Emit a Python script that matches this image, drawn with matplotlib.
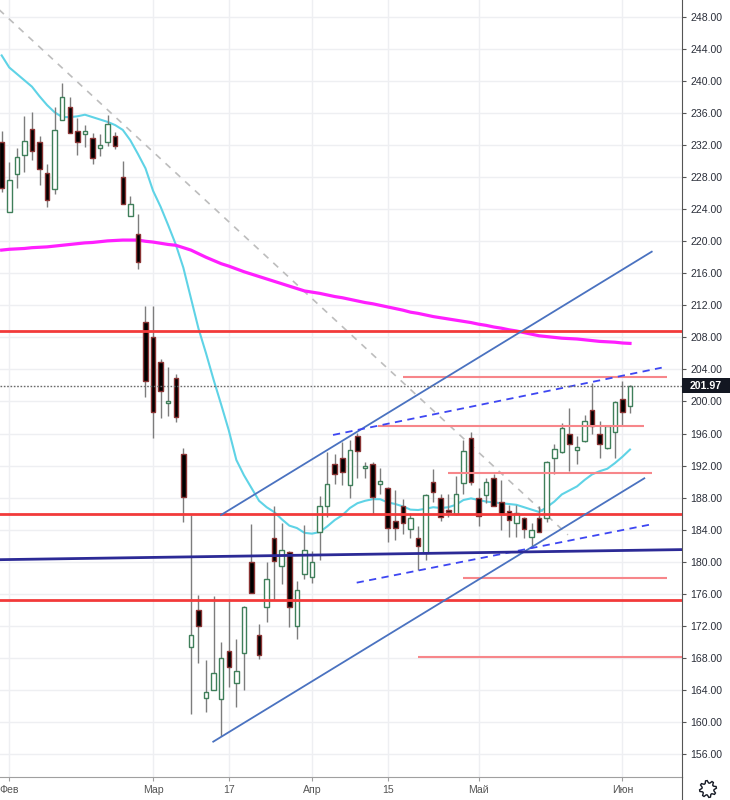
import matplotlib
matplotlib.use('Agg')
import matplotlib.pyplot as plt
import matplotlib.transforms as mtransforms
from matplotlib.patches import Rectangle, Polygon, Circle
import numpy as np

plt.rcParams['font.family'] = ['Liberation Sans', 'DejaVu Sans']

# ---------------- data ----------------
opens = [232.4, 223.7, 228.4, 230.8, 234.0, 232.4, 228.5, 226.5, 235.2, 236.8,
         233.8, 233.4, 232.9, 231.7, 232.4, 233.1, 228.0, 223.2, 220.9, 209.9,
         208.0, 204.9, 199.8, 202.9, 193.4, 169.4, 174.0, 163.0, 164.0, 162.9,
         168.9, 164.8, 168.6, 179.9, 170.9, 174.3, 182.9, 179.5, 181.2, 172.0,
         178.5, 178.1, 183.7, 186.9, 192.2, 192.9, 189.6, 195.7, 191.7, 192.2,
         189.7, 189.2, 185.1, 187.0, 184.1, 183.0, 181.1, 190.0, 188.0, 186.5,
         186.0, 189.8, 195.4, 188.0, 188.3, 190.5, 187.5, 186.3, 184.8, 185.5,
         183.1, 185.5, 185.5, 192.9, 193.7, 196.0, 193.9, 195.1, 198.9, 196.0,
         194.2, 196.2, 200.3, 199.4]
highs = [233.8, 229.9, 231.7, 235.6, 236.1, 233.1, 229.7, 236.8, 239.7, 238.0,
         235.4, 234.5, 233.5, 233.4, 235.8, 233.7, 230.0, 225.6, 223.4, 211.9,
         211.9, 205.3, 204.3, 203.4, 194.2, 185.8, 175.8, 167.7, 175.7, 170.0,
         175.4, 170.4, 174.5, 184.7, 172.2, 179.9, 187.0, 184.8, 181.3, 177.6,
         184.6, 181.3, 188.2, 193.7, 193.5, 194.9, 195.2, 196.1, 192.5, 192.5,
         191.7, 189.3, 189.0, 187.8, 186.1, 184.5, 188.4, 191.6, 188.4, 188.4,
         190.7, 195.2, 196.2, 189.2, 190.4, 190.9, 190.2, 187.1, 187.1, 185.6,
         184.8, 186.9, 192.6, 194.7, 197.3, 199.2, 195.7, 198.3, 202.3, 197.6,
         197.0, 200.0, 202.5, 202.1]
lows = [226.2, 223.6, 226.6, 228.7, 230.2, 227.0, 224.3, 225.9, 235.2, 233.5,
        230.8, 231.8, 229.7, 230.6, 231.9, 231.5, 224.6, 223.2, 216.6, 200.6,
        195.4, 197.9, 198.2, 197.4, 185.0, 161.0, 167.3, 161.2, 164.0, 158.2,
        164.4, 161.9, 164.0, 176.1, 167.9, 172.5, 175.2, 177.2, 171.9, 170.4,
        177.9, 177.4, 180.2, 185.6, 189.7, 189.6, 188.0, 190.5, 190.4, 186.0,
        188.4, 182.5, 182.7, 183.5, 183.0, 179.0, 180.2, 187.5, 185.1, 185.6,
        185.8, 188.4, 189.6, 184.4, 187.3, 186.9, 184.0, 183.1, 183.1, 183.0,
        181.7, 183.7, 185.0, 190.9, 193.6, 191.3, 192.2, 195.0, 196.0, 193.0,
        194.1, 193.0, 197.1, 198.6]
closes = [226.6, 227.6, 230.5, 232.5, 231.3, 229.0, 225.1, 233.9, 238.0, 233.5,
          232.4, 233.8, 230.4, 231.9, 234.6, 231.9, 224.7, 224.7, 217.4, 202.6,
          198.7, 201.3, 199.95, 198.0, 188.1, 170.9, 172.0, 163.7, 166.1, 168.0,
          166.9, 166.4, 174.4, 176.1, 168.3, 177.9, 180.1, 181.4, 174.4, 176.5,
          181.4, 180.0, 187.0, 189.7, 190.9, 191.2, 194.0, 193.8, 191.9, 188.1,
          190.1, 184.2, 184.2, 184.8, 185.5, 181.9, 188.3, 188.7, 185.6, 186.2,
          188.4, 193.8, 190.0, 185.7, 189.9, 187.0, 186.0, 185.2, 186.1, 184.1,
          183.9, 183.7, 192.4, 194.1, 196.7, 194.7, 194.3, 197.6, 196.9, 194.7,
          196.9, 199.9, 198.7, 201.97]

ma_fast = [243.2, 241.7, 240.9, 240.1, 239.3, 238.1, 237.0, 236.1, 235.5, 235.5,
           235.6, 235.8, 235.5, 235.2, 234.9, 234.5, 233.9, 232.6, 230.9, 229.1,
           226.3, 224.3, 222.0, 219.6, 216.7, 212.9, 209.1, 206.0, 202.7, 199.6,
           196.4, 192.7, 190.8, 189.2, 187.6, 186.8, 186.2, 185.3, 184.5, 184.2,
           183.6, 183.5, 183.7, 184.4, 185.2, 185.8, 186.7, 187.3, 187.6, 187.8,
           187.8, 187.4, 187.2, 186.9, 186.5, 186.45, 186.6, 186.8, 186.7, 186.8,
           187.1, 187.7, 187.9, 187.7, 187.5, 187.4, 187.3, 187.2, 187.1, 186.8,
           186.5, 186.2, 186.8, 187.5, 188.4, 188.9, 189.4, 190.2, 190.9, 191.3,
           191.6, 192.3, 193.1, 194.0]
ma_slow = [218.9, 219.0, 219.05, 219.1, 219.2, 219.25, 219.3, 219.4, 219.5, 219.6,
           219.7, 219.8, 219.85, 219.95, 220.05, 220.1, 220.15, 220.15, 220.15, 220.0,
           219.9, 219.75, 219.6, 219.5, 219.2, 218.9, 218.45, 218.0, 217.6, 217.2,
           216.9, 216.55, 216.2, 215.9, 215.6, 215.3, 215.0, 214.7, 214.4, 214.1,
           213.8, 213.65, 213.5, 213.3, 213.1, 212.95, 212.75, 212.55, 212.35, 212.2,
           212.0, 211.8, 211.6, 211.4, 211.15, 211.0, 210.8, 210.6, 210.45, 210.3,
           210.15, 210.0, 209.85, 209.65, 209.5, 209.3, 209.15, 208.95, 208.8, 208.6,
           208.4, 208.2, 208.1, 208.0, 207.9, 207.85, 207.8, 207.7, 207.6, 207.5,
           207.45, 207.4, 207.3, 207.25]

tick_idx = [1, 20, 30, 41, 51, 63, 82]
tick_labels = ['Фев', 'Мар', '17', 'Апр', '15', 'Май', 'Июн']
price_ticks = list(range(156, 249, 4))

# support / resistance levels
major_levels = [208.8, 185.92, 175.18]
minor_levels = [203.1, 197.0, 191.07, 177.92, 168.06]
minor_start = [53.0, 49.7, 58.96, 60.98, 55.0]
minor_end = [87.85, 84.9, 85.87, 87.85, 95.0]
# trend lines: (x0, p0, x1, p1)
gray_trend = [-1.7, 250.1, 74.8, 183.35]
channel_up = [28.97, 185.83, 85.87, 218.70]
channel_lo = [27.95, 157.53, 84.89, 190.41]
dash_up = [43.77, 195.82, 87.19, 204.22]
dash_lo = [46.9, 177.38, 85.87, 184.67]
navy_line = [-1.0, 180.24, 95.0, 181.58]

# ---------------- figure ----------------
W, H = 730, 800
fig = plt.figure(figsize=(W / 100, H / 100), dpi=100)
ax = fig.add_axes([0, 23 / H, 682 / W, 777 / H])
ax.set_xlim(-0.22, 89.87)
ax.set_ylim(153.12, 250.12)

grid_c = '#eeeff2'
for p in price_ticks:
    ax.axhline(p, color=grid_c, lw=1, zorder=0)
for t in tick_idx:
    ax.axvline(t, color=grid_c, lw=1, zorder=0)

# major horizontal levels
for lv in major_levels:
    ax.axhline(lv, color='#f23a3a', lw=2, zorder=4)
for lv, s, e in zip(minor_levels, minor_start, minor_end):
    ax.plot([s, e], [lv, lv], color='#f7868a', lw=1.5, zorder=4, solid_capstyle='butt')

# moving averages
x = np.arange(len(closes))
ax.plot(x, ma_fast, color='#5fd3e6', lw=1.5, zorder=2.5)
ax.plot(x, ma_slow, color='#ff1fff', lw=2.3, zorder=2.5)

# trend lines
ax.plot(gray_trend[0::2], gray_trend[1::2], color='#bdbdbd', lw=1.2,
        ls=(0, (4, 4)), zorder=2)
for ln in (channel_up, channel_lo):
    ax.plot(ln[0::2], ln[1::2], color='#4a72c0', lw=1.3, zorder=4)
for ln in (dash_up, dash_lo):
    ax.plot(ln[0::2], ln[1::2], color='#3d46f2', lw=1.3, ls=(0, (4, 3)), zorder=4)
ax.plot(navy_line[0::2], navy_line[1::2], color='#2c2a96', lw=2, zorder=4)

# candles
o = np.array(opens); c = np.array(closes); hi = np.array(highs); lo = np.array(lows)
up = c >= o
ax.vlines(x, lo, hi, color='#7d7d7d', lw=1, zorder=3)
bottom = np.minimum(o, c)
height = np.maximum(np.abs(c - o), 0.3)
ax.bar(x[up], height[up], bottom=bottom[up], width=0.6, color='#ffffff',
       edgecolor='#3f7f5a', linewidth=1, zorder=3.2)
ax.bar(x[~up], height[~up], bottom=bottom[~up], width=0.6, color='#000000',
       edgecolor='#8a3434', linewidth=1, zorder=3.2)

# last price dotted line
last = closes[-1]
ax.axhline(last, color='#6a6a6a', lw=1, ls=(0, (1.2, 1.2)), zorder=5)

# axes styling
for s in ['top', 'left']:
    ax.spines[s].set_visible(False)
ax.spines['right'].set_color('#555555')
ax.spines['bottom'].set_color('#a0a0a0')
ax.yaxis.tick_right()
ax.set_yticks(price_ticks)
ax.set_yticklabels([f'{p:.2f}' for p in price_ticks])
ax.tick_params(axis='y', length=3, width=0.8, color='#555555', pad=3,
               labelsize=7.6, labelcolor='#2a2e39')
ax.set_xticks(tick_idx)
ax.set_xticklabels(tick_labels)
ax.tick_params(axis='x', length=3, width=0.8, color='#a0a0a0', pad=3,
               labelsize=7.6, labelcolor='#555555')

# price label box
tr = mtransforms.blended_transform_factory(ax.transAxes, ax.transData)
ax.add_patch(Rectangle((1.0, last - 0.9), 48 / 682, 1.8, transform=tr,
                       facecolor='#131722', edgecolor='none', clip_on=False, zorder=6))
ax.text(1.0 + 24 / 682, last, f'{last:.2f}', transform=tr, color='white',
        fontsize=7.6, fontweight='bold', ha='center', va='center', zorder=7,
        clip_on=False)

# right separator down to bottom
fig.add_artist(plt.Line2D([682 / W, 682 / W], [0, 23 / H], color='#555555', lw=0.8))

# gear icon
gax = fig.add_axes([697 / W, 0, 22 / W, 22 / H])
gax.set_xlim(-1.3, 1.3); gax.set_ylim(-1.3, 1.3); gax.set_aspect('equal'); gax.axis('off')
ang = np.linspace(0, 2 * np.pi, 8 * 4 + 1)[:-1]
rad = np.array([1.0, 1.0, 0.72, 0.72] * 8)
ang = ang + np.pi / 32
gear = np.column_stack([rad * np.cos(ang), rad * np.sin(ang)])
gax.add_patch(Polygon(gear, closed=True, fill=False, edgecolor='#131722', lw=1))

fig.savefig('out.png', dpi=100, facecolor='white')
